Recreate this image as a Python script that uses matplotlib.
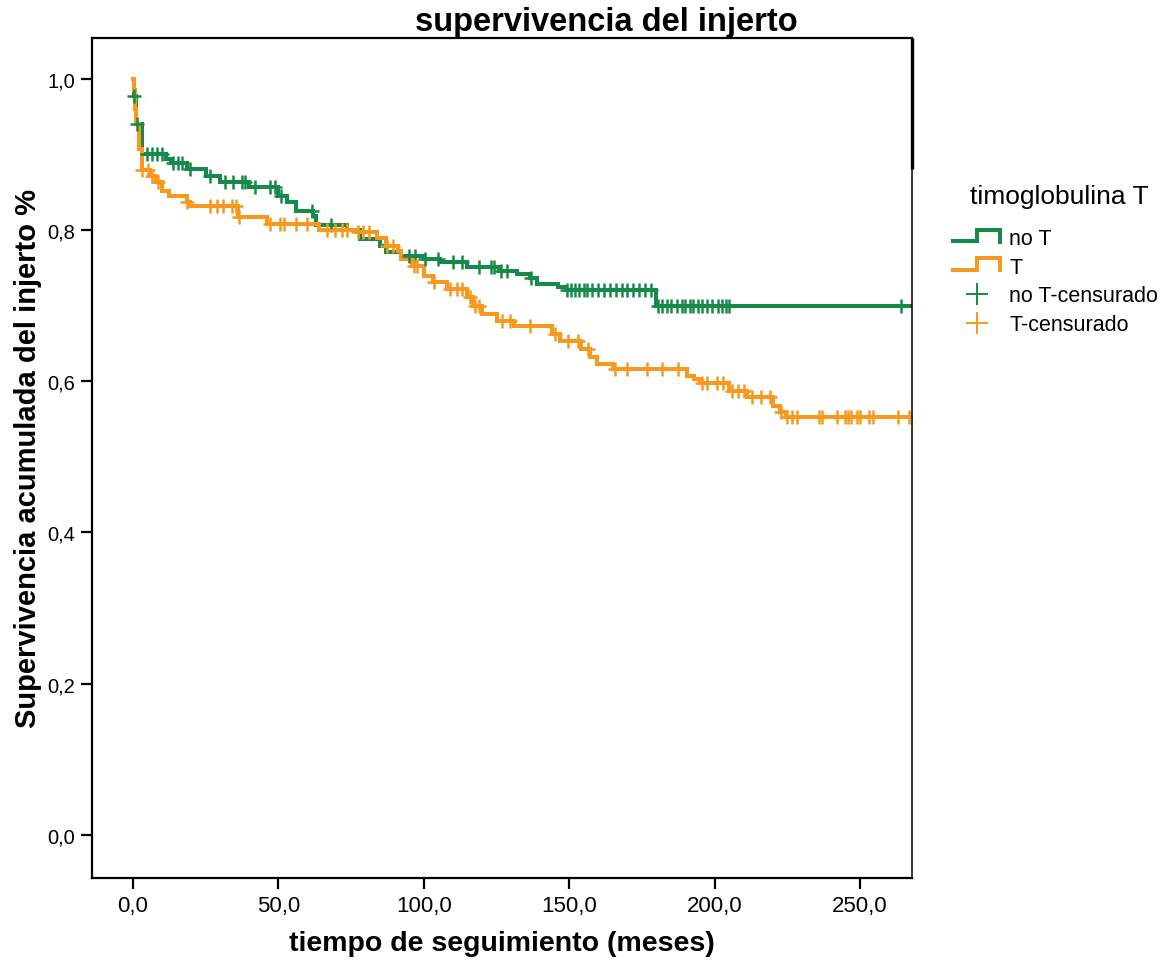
import numpy as np
import matplotlib
matplotlib.use("Agg")
import matplotlib.pyplot as plt
from matplotlib.lines import Line2D
from matplotlib.legend_handler import HandlerBase


# Kaplan-Meier steps: event times (months) and survival after each drop
green_t = [0.3, 1.0, 3.0, 11.5, 13, 18.5, 25, 30, 40, 50, 53, 56, 62, 63, 73.5,
           78, 85, 87, 92, 100, 105.5, 115, 126, 132, 136.5, 139, 146, 149, 180]
green_s = [0.977, 0.94, 0.90, 0.894, 0.888, 0.881, 0.872, 0.864, 0.857, 0.845,
           0.837, 0.825, 0.819, 0.806, 0.80, 0.788, 0.779, 0.771, 0.766, 0.762,
           0.758, 0.751, 0.746, 0.742, 0.737, 0.729, 0.725, 0.72, 0.70]
green_cens = [0.4, 1.3, 4.8, 6.5, 8.3, 10, 13.8, 15.5, 17, 19.5, 26.5, 31.6, 34.4,
              37.5, 38.5, 42, 47, 49, 51, 61.5, 68, 95, 97, 100.5, 105, 110, 113,
              119, 123, 124, 126.5, 128.6, 136.8, 149.3, 150.5, 152, 153.5, 155,
              156, 158, 160, 162, 164, 166, 168, 170, 172, 174, 176, 178, 180.5,
              182, 183.5, 185, 187, 188.8, 189.8, 191.5, 192.6, 194.3, 195.7,
              197.4, 199, 201, 202.5, 204, 205, 264]

orange_t = [0.2, 0.6, 1.0, 2.0, 3.0, 6, 8, 10, 12.5, 18.5, 19.5, 36, 46, 64, 77,
            84, 87, 91, 92, 96, 100, 103, 108, 115, 117, 120, 125, 131, 144, 147,
            154, 157, 159.5, 165, 190.5, 193, 195, 205, 211, 220, 222.5, 224.5]
orange_s = [0.985, 0.96, 0.94, 0.907, 0.88, 0.872, 0.864, 0.852, 0.845, 0.837,
            0.832, 0.817, 0.808, 0.80, 0.797, 0.79, 0.779, 0.772, 0.762, 0.753,
            0.739, 0.731, 0.722, 0.712, 0.70, 0.689, 0.68, 0.673, 0.663, 0.653,
            0.643, 0.632, 0.623, 0.616, 0.607, 0.603, 0.597, 0.587, 0.579, 0.567,
            0.559, 0.553]
orange_cens = [3.2, 5, 6.5, 8.6, 18.7, 26.5, 29, 31, 34, 35.5, 36.5, 47, 50.5, 52,
               56, 60, 66.7, 69.5, 72, 73.6, 77.5, 79, 81, 87.5, 89.4, 96.5, 97.7,
               103.5, 109, 111.4, 113, 116, 117.5, 119, 127, 129.6, 136.5, 145,
               149.6, 153, 156.5, 165.7, 170, 176.7, 182, 187.4, 195.5, 197.4,
               200.8, 203, 206, 208, 210, 213, 216, 219, 222.7, 225, 226.6, 228.3,
               236, 237, 242, 245, 246, 247, 249, 250, 253, 254.5, 263, 267]

groups = ["no T", "T"]
colors = ["#168a48", "#f7991f"]
xticks = [0, 50, 100, 150, 200, 250]
yticks = [0.0, 0.2, 0.4, 0.6, 0.8, 1.0]
t_end = 268

plt.rcParams['font.family'] = ['Liberation Sans', 'DejaVu Sans']


def step_xy(times, surv):
    x = np.r_[0.0, times, t_end]
    y = np.r_[1.0, surv, surv[-1]]
    return x, y


def surv_at(times, surv, t):
    x = np.r_[0.0, times]
    y = np.r_[1.0, surv]
    idx = np.searchsorted(x, t, side='right') - 1
    return y[idx]


class StepHandler(HandlerBase):
    # small "step" glyph used for the survival lines in the legend
    def create_artists(self, legend, orig, xd, yd, w, h, fontsize, trans):
        lo, hi = -yd + 0.2 * h, -yd + 0.95 * h
        xs = [-xd, -xd + w / 2, -xd + w / 2, -xd + w, -xd + w]
        ys = [lo, lo, hi, hi, lo - 0.05 * h]
        ln = Line2D(xs, ys, color=orig.get_color(), lw=orig.get_linewidth(),
                    solid_joinstyle='miter')
        ln.set_transform(trans)
        return [ln]


fig = plt.figure(figsize=(11.69, 9.62), dpi=100)
ax = fig.add_axes([0.0787, 0.0863, 0.7015, 0.8732])

data = [(green_t, green_s, green_cens), (orange_t, orange_s, orange_cens)]
for (tt, ss, cc), col in zip(data, colors):
    x, y = step_xy(tt, ss)
    ax.step(x, y, where='post', color=col, lw=2.9, solid_joinstyle='miter')
for (tt, ss, cc), col in zip(data, colors):
    cc = np.array(cc)
    ax.plot(cc, surv_at(tt, ss, cc), ls='none', marker='+', ms=10, mew=1.8,
            color=col)

ax.set_xlim(-14.1, 267.9)
ax.set_ylim(-0.057, 1.054)
ax.set_xticks(xticks)
ax.set_xticklabels([f"{v:.1f}".replace('.', ',') for v in xticks], fontsize=16)
ax.set_yticks(yticks)
ax.set_yticklabels([f"{v:.1f}".replace('.', ',') for v in yticks], fontsize=14.5)
ax.tick_params(direction='out', length=8, width=1.6, pad=4)
for s in ax.spines.values():
    s.set_linewidth(1.6)
ax.spines['right'].set_linewidth(1.1)
# heavier stub at the top of the right frame line
ax.plot([1, 1], [1, 0.844], transform=ax.transAxes, color='black', lw=2.4,
        clip_on=False, solid_capstyle='butt')

ax.set_xlabel("tiempo de seguimiento (meses)", fontsize=20.5, fontweight='bold',
              labelpad=10)
ax.set_ylabel("Supervivencia acumulada del injerto %", fontsize=21,
              fontweight='bold', labelpad=4)
fig.text(606 / 1169, 1 - 22 / 962, "supervivencia del injerto", fontsize=23.5,
         fontweight='bold', ha='center', va='center')

handles = [Line2D([], [], color=c, lw=2.9) for c in colors]
handles += [Line2D([], [], color=c, ls='none', marker='+', ms=16, mew=1.4)
            for c in colors]
labels = groups + [g + "-censurado" for g in groups]
fig.text(1059 / 1169, 1 - 197 / 962, "timoglobulina T", fontsize=19,
         ha='center', va='center')
fig.legend(handles, labels, loc='upper left',
           bbox_to_anchor=(953 / 1169, 1 - 229 / 962), frameon=False,
           fontsize=15.5, borderpad=0, borderaxespad=0,
           handler_map={handles[0]: StepHandler(), handles[1]: StepHandler()},
           handlelength=2.2, handletextpad=0.42, labelspacing=0.36)

fig.savefig("out.png", dpi=100)
